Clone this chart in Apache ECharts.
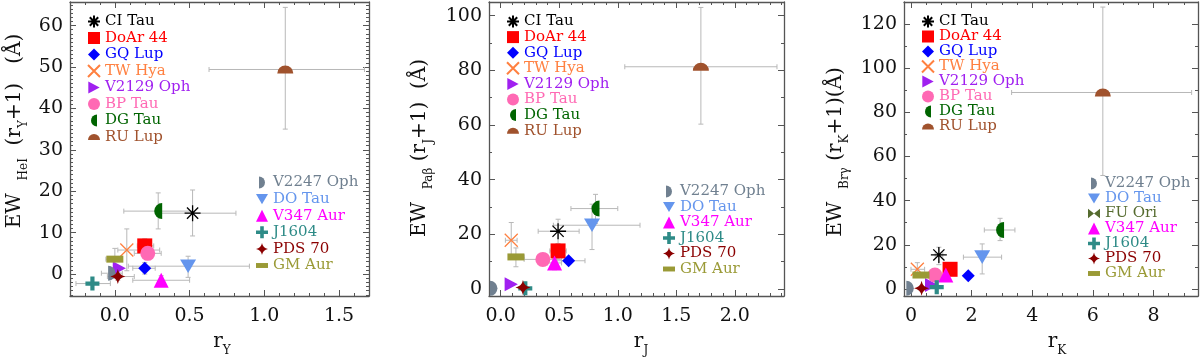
<!DOCTYPE html>
<html>
<head>
<meta charset="utf-8">
<script src="https://cdn.jsdelivr.net/npm/echarts@6/dist/echarts.min.js"></script>
<style>
  html, body { margin: 0; padding: 0; background: #fff; }
  #main { width: 1200px; height: 357px; }
</style>
</head>
<body>
<div id="main"></div>
<script>
const chart = echarts.init(document.getElementById('main'));

// Objects, in plotting order
const names = ['CI Tau', 'DoAr 44', 'GQ Lup', 'TW Hya', 'V2129 Oph', 'BP Tau', 'DG Tau', 'RU Lup',
  'V2247 Oph', 'DO Tau', 'FU Ori', 'V347 Aur', 'J1604', 'PDS 70', 'GM Aur'];

// Y band / He I
const rY    = [0.52, 0.20, 0.20, 0.08, 0.03, 0.22, 0.29, 1.14, -0.02, 0.49, null, 0.31, -0.15, 0.02, 0.00];
const ewHeI = [14.7, 6.8, 1.4, 5.8, 1.4, 5.0, 15.2, 49.4, 0.2, 1.9, null, -1.5, -2.3, -0.6, 3.6];
const rYErr = [[0.30, 0.81], [0.15, 0.26], [0.12, 0.27], [0.02, 0.30], null, [0.13, 0.31], [0.06, 0.52],
  [0.63, 1.67], [-0.09, 0.05], [0.09, 0.90], null, [0.12, 0.50], [-0.26, -0.03], [-0.05, 0.13], [-0.06, 0.05]];
const ewHeIErr = [[9.2, 20.3], [5.0, 8.5], [0.0, 2.8], [0.8, 10.9], null, [3.5, 6.5], [10.9, 19.6],
  [35.0, 64.4], [-1.0, 1.5], [-0.8, 4.3], null, [-2.5, -0.4], null, [-1.5, 0.3], [1.0, 6.2]];

// J band / Pa beta
const rJ    = [0.49, 0.49, 0.58, 0.09, 0.09, 0.36, 0.81, 1.71, -0.06, 0.78, null, 0.46, 0.21, 0.19, 0.13];
const ewPab = [21.1, 13.9, 10.3, 17.8, 1.7, 10.8, 29.4, 81.3, 0.2, 23.3, null, 9.5, 0.2, 0.5, 11.7];
const rJErr = [[0.32, 0.67], [0.42, 0.56], [0.48, 0.72], [0.04, 0.14], null, [0.20, 0.52], [0.60, 1.00],
  [1.06, 2.36], null, [0.45, 1.19], null, [0.40, 0.52], null, null, [0.07, 0.20]];
const ewPabErr = [[16.6, 25.5], [11.0, 16.0], [9.0, 11.6], [11.0, 24.3], null, null, [24.0, 34.6],
  [60.3, 103.0], null, [14.4, 31.0], null, [7.0, 11.0], null, null, [8.1, 15.0]];

// K band / Br gamma
const rK    = [0.92, 1.29, 1.89, 0.21, 0.68, 0.79, 2.94, 6.33, -0.03, 2.35, null, 1.15, 0.85, 0.35, 0.33];
const ewBrg = [15.4, 8.9, 6.0, 8.9, 1.8, 6.3, 26.7, 89.0, 0.3, 14.4, null, 6.3, 0.8, 0.3, 6.3];
const rKErr = [[0.80, 1.05], null, null, [0.00, 0.45], null, null, [2.42, 3.43],
  [3.32, 9.26], null, [1.73, 2.99], null, null, null, null, null];
const ewBrgErr = [[11.0, 18.9], null, null, [6.0, 11.9], null, null, [21.9, 32.0],
  [51.4, 127.7], null, [6.8, 20.4], null, null, null, null, null];

// Styling per object
const colors = ['#000000', '#ff0000', '#0000ff', '#ff8040', '#a020f0', '#ff69b4', '#006400', '#a0522d',
  '#708090', '#6495ed', '#556b2f', '#ff00ff', '#2e8b87', '#8b0000', '#9a9a36'];
const symbols = [
  'path://M0,-10L0,10M-10,0L10,0M-7,-7L7,7M-7,7L7,-7',      // asterisk
  'rect',
  'diamond',
  'path://M-10,-10L10,10M-10,10L10,-10',                     // X
  'path://M-8,-9L9,0L-8,9Z',                                 // right triangle
  'circle',
  'path://M0,-10A10,10 0 0,0 0,10Z',                         // left half disc
  'path://M-10,0A10,10 0 0,1 10,0Z',                         // top half disc
  'path://M0,-10A10,10 0 0,1 0,10Z',                         // right half disc
  'path://M-10,-8L10,-8L0,9Z',                               // down triangle
  'path://M-10,-8L0,0L-10,8ZM10,-8L0,0L10,8Z',               // bowtie
  'triangle',
  'path://M-3,-10H3V-3H10V3H3V10H-3V3H-10V-3H-3Z',           // plus
  'path://M0,-10Q1.5,-1.5 10,0Q1.5,1.5 0,10Q-1.5,1.5 -10,0Q-1.5,-1.5 0,-10Z', // 4-point star
  'path://M0,0H17V7H0Z'                                      // flat bar
];
const sizes = [16, 15, 13, 13, 14, 15, 16, 16, 15, 16, 14, 15, 14, 15, 17];
const strokeOnly = [true, false, false, true];

const topNames = names.slice(0, 8);
const bottomNames12 = ['V2247 Oph', 'DO Tau', 'V347 Aur', 'J1604', 'PDS 70', 'GM Aur'];
const bottomNames3 = ['V2247 Oph', 'DO Tau', 'FU Ori', 'V347 Aur', 'J1604', 'PDS 70', 'GM Aur'];

const panels = [
  { x: rY, y: ewHeI, xe: rYErr, ye: ewHeIErr, xr: [-0.3, 1.7], yr: [-5.3, 65.7], xs: 4, ys: 7, xm: 5, ym: 10, xf: 1 },
  { x: rJ, y: ewPab, xe: rJErr, ye: ewPabErr, xr: [-0.1, 2.42], yr: [-2.6, 105], xs: 5, ys: 5, xm: 5, ym: 2, xf: 1 },
  { x: rK, y: ewBrg, xe: rKErr, ye: ewBrgErr, xr: [-0.23, 9.47], yr: [-3.2, 130], xs: 5, ys: 7, xm: 4, ym: 2, xf: 0 }
];

const grids = [
  { left: 70, top: 2, width: 299, height: 294 },
  { left: 489, top: 2, width: 295, height: 294 },
  { left: 904, top: 2, width: 294, height: 294 }
];

const serif = 'DejaVu Serif';
const frame = '#555';
function makeAxis(g, dim, range, split, minor, pos, labels, decimals) {
  return {
    type: 'value', gridIndex: g, position: pos, min: range[0], max: range[1], splitNumber: split,
    axisLine: { onZero: false, lineStyle: { color: frame, width: 1.3 } },
    axisTick: { inside: true, length: 6, lineStyle: { color: frame } },
    minorTick: { show: true, splitNumber: minor, length: 3, lineStyle: { color: frame } },
    splitLine: { show: false },
    axisLabel: {
      show: labels, showMinLabel: false, showMaxLabel: false,
      margin: dim === 'x' ? 11 : 7,
      fontFamily: serif, fontSize: 19, color: '#111',
      formatter: v => v.toFixed(decimals)
    }
  };
}

const xAxis = [], yAxis = [];
panels.forEach((p, g) => {
  xAxis.push(makeAxis(g, 'x', p.xr, p.xs, p.xm, 'bottom', true, p.xf));
  xAxis.push(makeAxis(g, 'x', p.xr, p.xs, p.xm, 'top', false, p.xf));
  yAxis.push(makeAxis(g, 'y', p.yr, p.ys, p.ym, 'left', true, 0));
  yAxis.push(makeAxis(g, 'y', p.yr, p.ys, p.ym, 'right', false, 0));
});

function renderErr(params, api) {
  const x = api.value(0), y = api.value(1);
  const xl = api.value(2), xh = api.value(3), yl = api.value(4), yh = api.value(5);
  const st = { stroke: '#b8b8b8', lineWidth: 1 };
  const c = 2.5;
  const kids = [];
  const seg = (a, b) => kids.push({ type: 'line', shape: { x1: a[0], y1: a[1], x2: b[0], y2: b[1] }, style: st });
  if (!isNaN(xl)) {
    const a = api.coord([xl, y]), b = api.coord([xh, y]);
    seg(a, b);
    seg([a[0], a[1] - c], [a[0], a[1] + c]);
    seg([b[0], b[1] - c], [b[0], b[1] + c]);
  }
  if (!isNaN(yl)) {
    const a = api.coord([x, yl]), b = api.coord([x, yh]);
    seg(a, b);
    seg([a[0] - c, a[1]], [a[0] + c, a[1]]);
    seg([b[0] - c, b[1]], [b[0] + c, b[1]]);
  }
  return { type: 'group', children: kids };
}

const series = [];
panels.forEach((p, g) => {
  const errData = [];
  names.forEach((n, i) => {
    if (p.x[i] == null) return;
    const xe = p.xe[i], ye = p.ye[i];
    errData.push([p.x[i], p.y[i], xe ? xe[0] : '-', xe ? xe[1] : '-', ye ? ye[0] : '-', ye ? ye[1] : '-']);
  });
  series.push({
    type: 'custom', xAxisIndex: g * 2, yAxisIndex: g * 2, renderItem: renderErr,
    encode: { x: 0, y: 1 }, data: errData, silent: true, z: 1, clip: true
  });
  names.forEach((n, i) => {
    if (p.x[i] == null && !(g === 2 && n === 'FU Ori')) return;
    const line = strokeOnly[i] === true;
    series.push({
      type: 'scatter', name: n, xAxisIndex: g * 2, yAxisIndex: g * 2,
      data: p.x[i] == null ? [] : [[p.x[i], p.y[i]]],
      symbol: symbols[i], symbolSize: sizes[i], symbolKeepAspect: true,
      itemStyle: line ? { color: colors[i], borderColor: colors[i], borderWidth: 1.3, opacity: 1 }
                      : { color: colors[i], opacity: 1 },
      z: 10 + i
    });
  });
});

function legendFor(list, left, top, gap) {
  return {
    orient: 'vertical', left: left, top: top, padding: 0, itemGap: gap,
    itemWidth: 12, itemHeight: 12, selectedMode: false,
    textStyle: { fontFamily: serif, fontSize: 15, lineHeight: 15 },
    data: list.map(n => {
      const i = names.indexOf(n);
      return { name: n, icon: symbols[i], textStyle: { color: colors[i] } };
    })
  };
}

const legend = [
  legendFor(topNames, 87, 14, 1.5),
  legendFor(bottomNames12, 256, 175, 1.6),
  legendFor(topNames, 506, 14, 0.6),
  legendFor(bottomNames12, 663, 184, 0.5),
  legendFor(topNames, 921, 14, 0),
  legendFor(bottomNames3, 1088, 176, 0)
];

const rich = {
  m: { fontSize: 20, fontFamily: serif, fill: '#111', lineHeight: 30 },
  s: { fontSize: 12, fontFamily: serif, fill: '#111', verticalAlign: 'bottom' }
};
function title(text, x, y, rot) {
  return {
    type: 'text', x: x, y: y, rotation: rot ? Math.PI / 2 : 0, silent: true,
    style: { text: text, rich: rich, fontFamily: serif, fontSize: 20, align: 'center', verticalAlign: 'middle' }
  };
}

chart.setOption({
  animation: false,
  backgroundColor: '#fff',
  grid: grids.map(g => Object.assign({ containLabel: false, outerBoundsMode: 'none' }, g)),
  xAxis: xAxis,
  yAxis: yAxis,
  legend: legend,
  series: series,
  graphic: [
    title('{m|EW  }{s|HeI}{m|  (r}{s|Y}{m|+1)   (Å)}', 15, 131, true),
    title('{m|EW  }{s|Paβ}{m| (r}{s|J}{m|+1)  (Å)}', 420, 148, true),
    title('{m|EW  }{s|Brγ}{m| (r}{s|K}{m|+1)(Å)}', 836, 152, true),
    title('{m|r}{s|Y}', 222, 342, false),
    title('{m|r}{s|J}', 641, 342, false),
    title('{m|r}{s|K}', 1057, 342, false)
  ]
});
</script>
</body>
</html>
